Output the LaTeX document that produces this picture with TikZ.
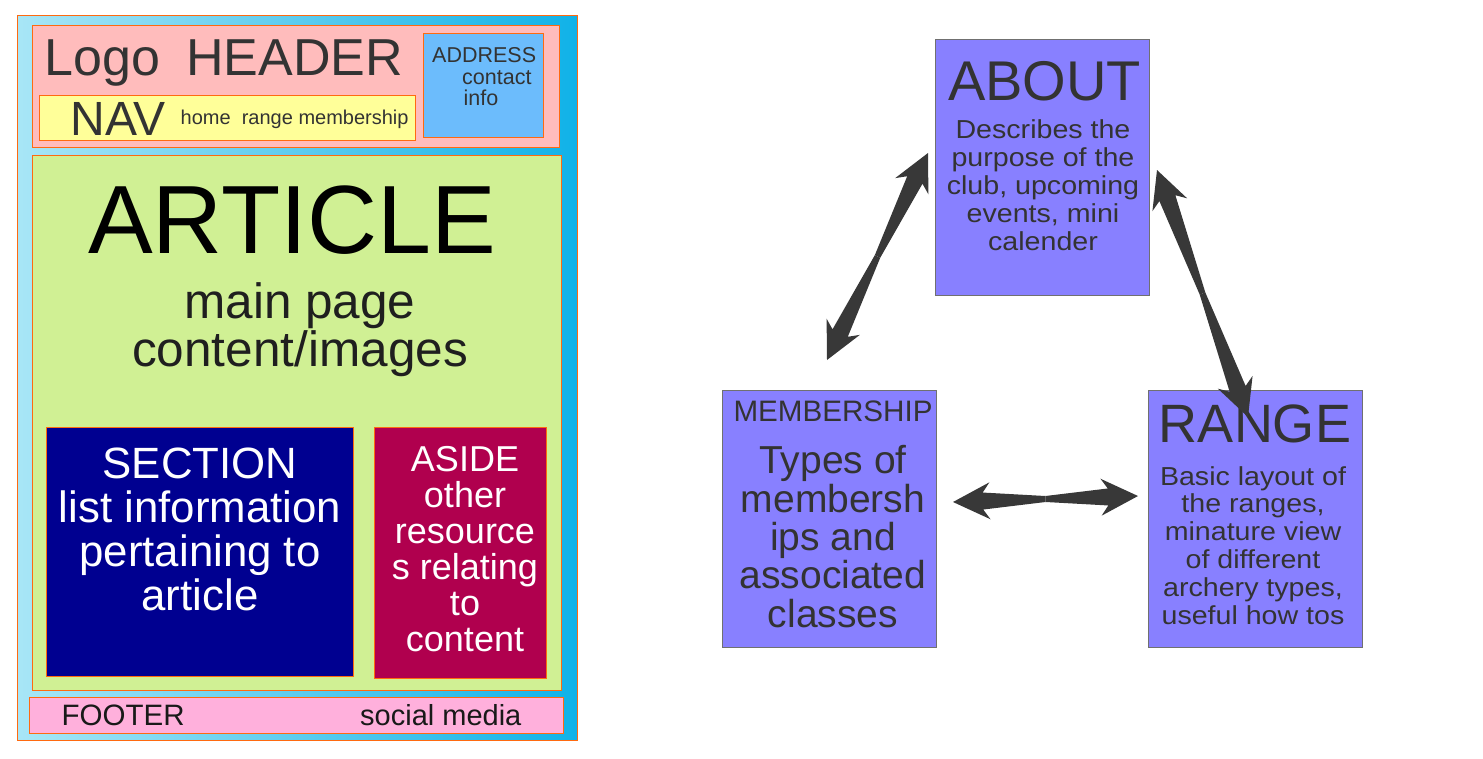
\documentclass[tikz,border=0pt]{standalone}
\usepackage{fontspec}
\setmainfont{Liberation Sans}
\newfontfamily\widesans[FakeStretch=1.1]{Liberation Sans}
\usetikzlibrary{calc}

\definecolor{framel}{HTML}{A8E6F6}
\definecolor{framer}{HTML}{10B2E8}
\definecolor{edgeorange}{HTML}{FF6A10}
\definecolor{headpink}{HTML}{FFBCBC}
\definecolor{navyellow}{HTML}{FFFF99}
\definecolor{addrblue}{HTML}{6CBCFC}
\definecolor{artgreen}{HTML}{D0F094}
\definecolor{secnavy}{HTML}{000090}
\definecolor{asidered}{HTML}{B0004E}
\definecolor{footpink}{HTML}{FFB0DC}
\definecolor{pagepurple}{HTML}{8880FF}
\definecolor{pageedge}{HTML}{707070}
\definecolor{inkgray}{HTML}{333333}
\definecolor{arrowgray}{HTML}{383838}

\tikzset{
  wirebox/.style={draw=edgeorange,line width=.9pt,anchor=north west,inner sep=0pt},
  pagebox/.style={draw=pageedge,fill=pagepurple,line width=.8pt,anchor=north west,inner sep=0pt},
  inktext/.style={text=inkgray,inner sep=0pt},
}

% one half of a fat double arrow, from the middle #1 out to the tip #2
\newcommand\fathalf[2]{%
  \path ($(#2)!30pt!(#1)$) coordinate (fa-j) ($(#2)!37pt!(#1)$) coordinate (fa-k);
  \fill[arrowgray] ($(#1)!3pt!90:(#2)$) -- ($(fa-j)!8.5pt!90:(#2)$) -- ($(fa-k)!18.5pt!90:(#2)$)
    -- (#2) -- ($(fa-k)!18.5pt!-90:(#2)$) -- ($(fa-j)!8.5pt!-90:(#2)$) -- ($(#1)!3pt!-90:(#2)$) -- cycle;
}
\newcommand\fatarrow[2]{%
  \path ($(#1)!.5!(#2)$) coordinate (fa-m);
  \fathalf{fa-m}{#1}\fathalf{fa-m}{#2}
}

\begin{document}
\begin{tikzpicture}[x=1pt,y=-1pt]
  \useasboundingbox (0,0) rectangle (1483,758);

  % page wireframe
  \node[wirebox,left color=framel,right color=framer,minimum width=560,minimum height=725] (frame) at (17,15) {};
  \node[wirebox,fill=headpink,minimum width=527,minimum height=122] (header) at (32,25) {};
  \node[wirebox,fill=addrblue,minimum width=120,minimum height=104] (address) at (423,33) {};
  \node[wirebox,fill=navyellow,minimum width=376,minimum height=45] (nav) at (39,95) {};
  \node[wirebox,fill=artgreen,minimum width=529,minimum height=535] (article) at (32,155) {};
  \node[wirebox,fill=secnavy,minimum width=307,minimum height=249] (section) at (46,427) {};
  \node[wirebox,fill=asidered,minimum width=172,minimum height=251] (aside) at (374,427) {};
  \node[wirebox,fill=footpink,minimum width=534,minimum height=36] (footer) at (29,697) {};

  \node[inktext,anchor=base west,font=\fontsize{52}{60}\selectfont] (logo) at (44.5,75) {Logo\hspace{26pt}HEADER};
  \node[inktext,anchor=base west,font=\fontsize{48}{56}\selectfont] (navt) at (70.5,135) {NAV};
  \node[inktext,anchor=base west,font=\fontsize{20}{24}\selectfont] (links) at (180.5,124) {home\ \ range membership};
  \node[inktext,anchor=base west,font=\fontsize{21.5}{22}\selectfont] (addr1) at (432,62) {ADDRESS};
  \node[inktext,anchor=base west,font=\fontsize{21.5}{22}\selectfont] (addr2) at (462,84) {contact};
  \node[inktext,anchor=base west,font=\fontsize{21.5}{22}\selectfont] (addr3) at (463.5,105) {info};

  \node[text=black,inner sep=0pt,anchor=base,font=\fontsize{97}{100}\selectfont] (artt) at (292,253) {ARTICLE};
  \node[text=black!88,inner sep=0pt,anchor=north,align=center,font=\fontsize{49.5}{48}\selectfont] (main) at (300,282)
    {main page\\content/images};
  \node[text=white,inner sep=0pt,anchor=north,align=center,font=\fontsize{43.8}{44}\selectfont] (sect) at (200,448)
    {SECTION\\list information\\pertaining to\\article};
  \node[text=white,inner sep=0pt,anchor=north,align=center,font=\fontsize{36}{36}\selectfont] (asit) at (465,446)
    {ASIDE\\other\\resource\\s relating\\to\\content};
  \node[text=black!90,inner sep=0pt,anchor=base west,font=\fontsize{29.5}{30}\selectfont] (foot1) at (61.5,725) {FOOTER};
  \node[text=black!90,inner sep=0pt,anchor=base west,font=\fontsize{29}{30}\selectfont] (foot2) at (360,725) {social media};

  % site pages
  \node[pagebox,minimum width=214,minimum height=256] (about) at (935,39) {};
  \node[pagebox,minimum width=214,minimum height=257] (member) at (722,390) {};
  \node[pagebox,minimum width=214,minimum height=257] (range) at (1148,390) {};

  \node[inktext,anchor=base,font=\fontsize{56}{60}\selectfont] (aboutt) at (1044.5,100) {ABOUT};
  \node[inktext,anchor=north,align=center,font=\widesans\fontsize{26}{28}\selectfont] (aboutb) at (1043,119)
    {Describes the\\purpose of the\\club, upcoming\\events, mini\\calender};
  \node[inktext,anchor=base,font=\fontsize{29.6}{30}\selectfont] (membert) at (833,421) {MEMBERSHIP};
  \node[inktext,anchor=north,align=center,font=\fontsize{39}{38.3}\selectfont] (memberb) at (833,445.5)
    {Types of\\membersh\\ips and\\associated\\classes};
  \node[inktext,anchor=base,font=\fontsize{54}{60}\selectfont] (ranget) at (1255,442) {RANGE};
  \node[inktext,anchor=north,align=center,font=\widesans\fontsize{26}{27.9}\selectfont] (rangeb) at (1253,466)
    {Basic layout of\\the ranges,\\minature view\\of different\\archery types,\\useful how tos};

  % links between the pages
  \coordinate (ma-lo) at (827,360);
  \coordinate (ma-hi) at (928,153);
  \coordinate (ar-hi) at (1157,170);
  \coordinate (ar-lo) at (1248,417);
  \coordinate (mr-l) at (953,502);
  \coordinate (mr-r) at (1138,496);
  \fatarrow{ma-lo}{ma-hi}
  \fatarrow{ar-hi}{ar-lo}
  \fatarrow{mr-l}{mr-r}
\end{tikzpicture}
\end{document}
